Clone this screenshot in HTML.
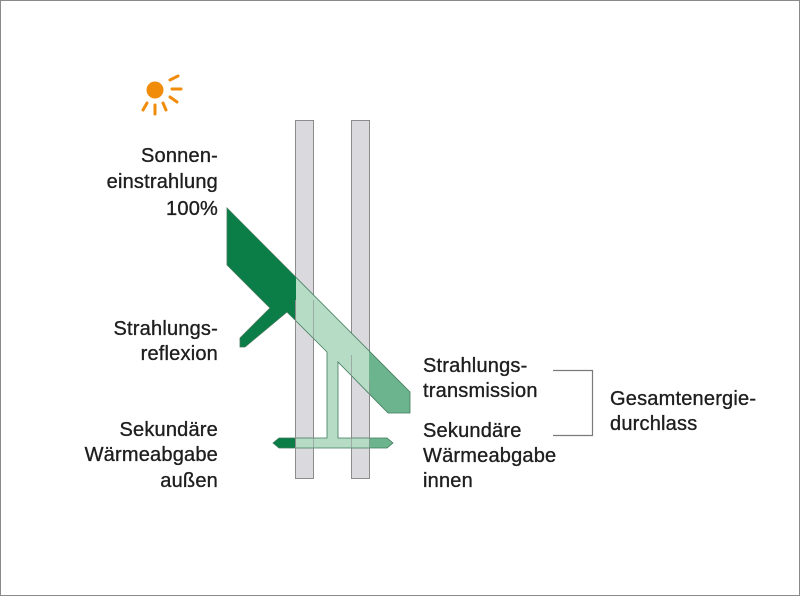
<!DOCTYPE html>
<html><head><meta charset="utf-8"><style>
html,body{margin:0;padding:0;background:#fff}
svg{display:block}
text{font-family:"Liberation Sans","DejaVu Sans",sans-serif;font-size:20px;letter-spacing:0.2px;fill:#1e1e1e;stroke:#1e1e1e;stroke-width:0.35px}
</style></head><body>
<svg width="800" height="596" viewBox="0 0 800 596" xmlns="http://www.w3.org/2000/svg">
<rect x="0.5" y="0.5" width="799" height="595" fill="#fff" stroke="#8a8a8a" stroke-width="1"/>
<defs>
<clipPath id="L"><rect x="0" y="0" width="296" height="596"/></clipPath>
<clipPath id="R"><rect x="369" y="0" width="431" height="596"/></clipPath>
<polygon id="beam" points="227,208 410,392 410,413 388,413 338,362 338,438 387,438 393,443 387,448 279,448 273,443 279,438 327,438 327,352 287,312 245,347 240,347 240,338 270,308 227,265"/>
</defs>
<rect x="295.5" y="120.5" width="18" height="358" fill="#d9d9de" stroke="#8c8c8c"/>
<rect x="351.5" y="120.5" width="18" height="358" fill="#d9d9de" stroke="#8c8c8c"/>
<use href="#beam" fill="#b6dcc6"/>
<use href="#beam" fill="#0b7d47" clip-path="url(#L)"/>
<use href="#beam" fill="#6cb48e" clip-path="url(#R)"/>
<use href="#beam" fill="none" stroke="#3f7a5a" stroke-width="0.8"/>
<line x1="295.5" y1="300" x2="295.5" y2="478" stroke="#8c8c8c" stroke-width="1"/>
<line x1="313.5" y1="300" x2="313.5" y2="478" stroke="#8c8c8c" stroke-width="1" opacity="0.6"/>
<line x1="351.5" y1="355" x2="351.5" y2="478" stroke="#8c8c8c" stroke-width="1" opacity="0.6"/>
<line x1="369.5" y1="380" x2="369.5" y2="478" stroke="#8c8c8c" stroke-width="1" opacity="0.6"/>
<g stroke="#f08c0a" stroke-width="3" stroke-linecap="round">
<line x1="170" y1="80" x2="178" y2="76"/>
<line x1="172" y1="89" x2="181" y2="89"/>
<line x1="170" y1="97" x2="177" y2="102"/>
<line x1="163" y1="103" x2="166" y2="110"/>
<line x1="155" y1="105" x2="155" y2="114"/>
<line x1="147" y1="103" x2="143" y2="110"/>
</g>
<circle cx="155" cy="90" r="8.5" fill="#f08c0a"/>
<g text-anchor="end">
<text x="218" y="162">Sonnen-</text>
<text x="218" y="188">einstrahlung</text>
<text x="218" y="215">100%</text>
<text x="218" y="335">Strahlungs-</text>
<text x="218" y="360">reflexion</text>
<text x="218" y="436">Sekundäre</text>
<text x="218" y="461">Wärmeabgabe</text>
<text x="218" y="487">außen</text>
</g>
<text x="423" y="372">Strahlungs-</text>
<text x="423" y="397">transmission</text>
<text x="423" y="437">Sekundäre</text>
<text x="423" y="462">Wärmeabgabe</text>
<text x="423" y="487">innen</text>
<text x="610" y="405">Gesamtenergie-</text>
<text x="610" y="430">durchlass</text>
<polyline points="553,370.5 592.5,370.5 592.5,435.5 553,435.5" fill="none" stroke="#7a7a7a" stroke-width="1.2"/>
</svg>
</body></html>
